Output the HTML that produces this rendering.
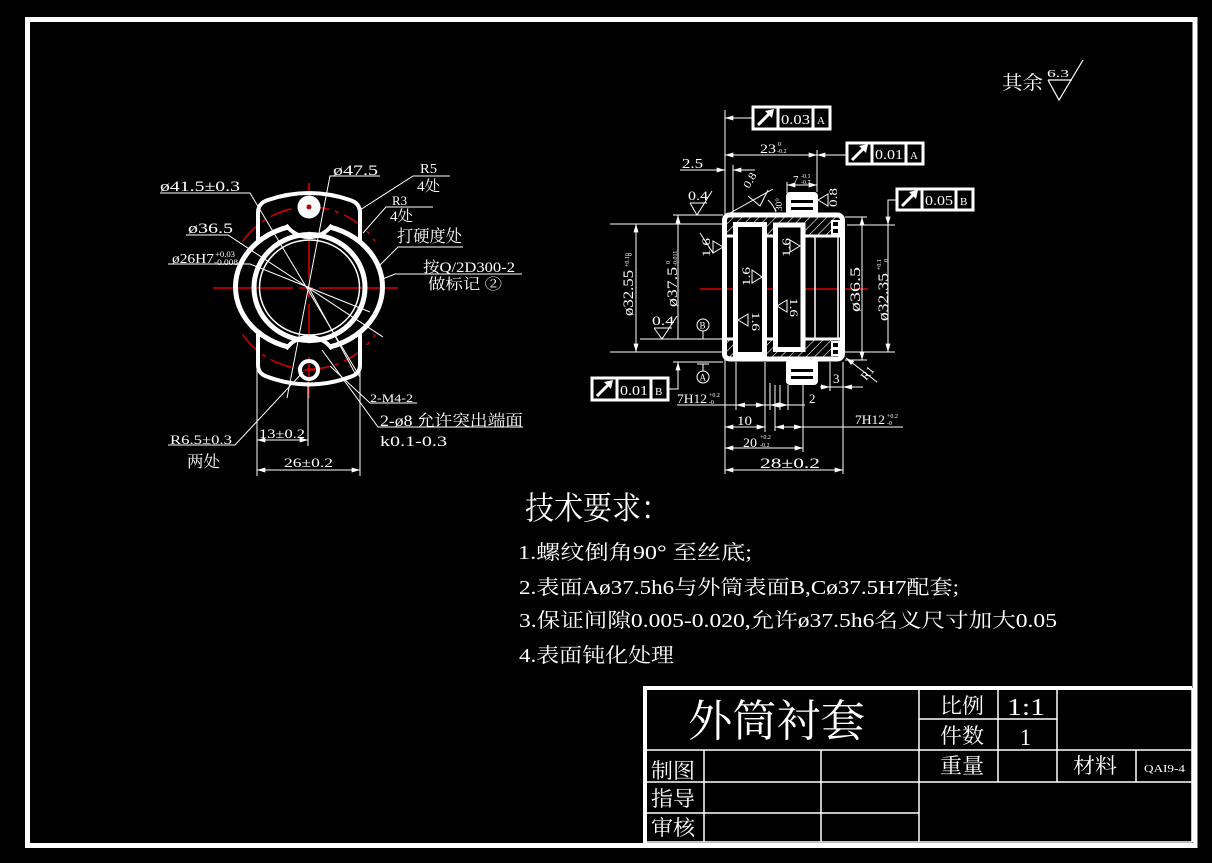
<!DOCTYPE html>
<html><head><meta charset="utf-8">
<style>
html,body{margin:0;padding:0;background:#000;}
svg{display:block;}
text{fill:#fff;font-family:"Liberation Serif","Noto Serif CJK SC",serif;}
</style></head><body>
<svg width="1212" height="863" viewBox="0 0 1212 863" xmlns="http://www.w3.org/2000/svg">
<defs>
<marker id="ar" viewBox="0 0 10 6" refX="10" refY="3" markerWidth="9" markerHeight="5" markerUnits="userSpaceOnUse" orient="auto-start-reverse"><path d="M0 0L10 3L0 6z" fill="#fff"/></marker>
<pattern id="h" width="6" height="6" patternUnits="userSpaceOnUse" patternTransform="rotate(45)"><line x1="0" y1="0" x2="0" y2="6" stroke="#fff" stroke-width="1.2"/></pattern>
</defs>
<rect width="1212" height="863" fill="#000"/>

<!-- outer frame -->
<rect x="27.5" y="19.5" width="1167.5" height="826" fill="none" stroke="#fff" stroke-width="5"/>

<!-- ===== title block ===== -->
<g stroke="#fff" fill="none">
<line x1="643" y1="688" x2="1192" y2="688" stroke-width="4"/>
<line x1="645" y1="686" x2="645" y2="843" stroke-width="4"/>
<g stroke-width="1.5">
<line x1="1192" y1="688" x2="1192" y2="842"/>
<line x1="645" y1="842" x2="1192" y2="842"/>
<line x1="919" y1="719" x2="1057" y2="719"/>
<line x1="645" y1="750" x2="1192" y2="750"/>
<line x1="645" y1="782" x2="1192" y2="782"/>
<line x1="645" y1="813" x2="919" y2="813"/>
<line x1="704" y1="750" x2="704" y2="842"/>
<line x1="821" y1="750" x2="821" y2="842"/>
<line x1="919" y1="688" x2="919" y2="842"/>
<line x1="998" y1="688" x2="998" y2="782"/>
<line x1="1057" y1="688" x2="1057" y2="782"/>
<line x1="1136" y1="750" x2="1136" y2="782"/>
</g>
</g>
<text x="688" y="736" font-size="44" textLength="177" lengthAdjust="spacingAndGlyphs">外筒衬套</text>
<text x="940" y="713" font-size="21" textLength="44" lengthAdjust="spacingAndGlyphs">比例</text>
<text x="1007" y="715" font-size="24" textLength="38" lengthAdjust="spacingAndGlyphs">1:1</text>
<text x="940" y="743" font-size="21" textLength="44" lengthAdjust="spacingAndGlyphs">件数</text>
<text x="1020" y="745" font-size="23" textLength="11" lengthAdjust="spacingAndGlyphs">1</text>
<text x="940" y="773" font-size="21" textLength="44" lengthAdjust="spacingAndGlyphs">重量</text>
<text x="1073" y="773" font-size="21" textLength="44" lengthAdjust="spacingAndGlyphs">材料</text>
<text x="1144" y="772" font-size="11" textLength="41" lengthAdjust="spacingAndGlyphs">QAI9-4</text>
<text x="651" y="778" font-size="21" textLength="44" lengthAdjust="spacingAndGlyphs">制图</text>
<text x="651" y="806" font-size="21" textLength="44" lengthAdjust="spacingAndGlyphs">指导</text>
<text x="651" y="835" font-size="21" textLength="44" lengthAdjust="spacingAndGlyphs">审核</text>

<!-- ===== surface finish top right ===== -->
<text x="1002" y="89" font-size="19" textLength="41" lengthAdjust="spacingAndGlyphs">其余</text>
<text x="1047" y="77" font-size="11" textLength="22" lengthAdjust="spacingAndGlyphs">6.3</text>
<path d="M1048 80 L1072 80 M1048 80 L1059 100 L1083 60" stroke="#fff" stroke-width="1.2" fill="none"/>

<!-- ===== technical requirements ===== -->
<text x="525" y="519" font-size="32" textLength="145" lengthAdjust="spacingAndGlyphs">技术要求：</text>
<text x="518" y="559" font-size="20" textLength="234" lengthAdjust="spacingAndGlyphs">1.螺纹倒角90° 至丝底;</text>
<text x="519" y="594" font-size="20" textLength="440" lengthAdjust="spacingAndGlyphs">2.表面Aø37.5h6与外筒表面B,Cø37.5H7配套;</text>
<text x="519" y="627" font-size="20" textLength="538" lengthAdjust="spacingAndGlyphs">3.保证间隙0.005-0.020,允许ø37.5h6名义尺寸加大0.05</text>
<text x="519" y="662" font-size="20" textLength="155" lengthAdjust="spacingAndGlyphs">4.表面钝化处理</text>

<!-- ===== LEFT VIEW ===== -->
<g stroke="#d00" stroke-width="1.5" fill="none">
<path d="M242.6 241.5 A81 81 0 0 1 375.4 241.5" stroke-dasharray="22 6 4 6"/>
<path d="M242.6 334.5 A81 81 0 0 0 375.4 334.5" stroke-dasharray="22 6 4 6"/>
<line x1="213" y1="288" x2="398" y2="288" stroke-dasharray="80 6 14 6"/>
<line x1="309" y1="183" x2="309" y2="398" stroke-dasharray="95 6 14 6"/>
</g>
<g fill="none" stroke="#fff">
<ellipse cx="309" cy="287" rx="73.5" ry="62.5" stroke-width="5"/>
<ellipse cx="309.5" cy="287.5" rx="55.5" ry="53" stroke-width="5"/>
<ellipse cx="309.5" cy="287.5" rx="50" ry="47.5" stroke-width="1.5"/>
<path d="M258 241 L258 213 Q258 203 268 200 Q309 186 350 200 Q360 203 360 213 L360 241" stroke-width="4"/>
<path d="M258 333 L258 365 Q258 374 268 377 Q309 392 350 377 Q360 374 360 365 L360 333" stroke-width="4"/>
</g>
<!-- masks where ring is interrupted by lugs -->
<rect x="288" y="218" width="42" height="13" fill="#000"/>
<rect x="288" y="344" width="42" height="13" fill="#000"/>
<g fill="none" stroke="#fff">
<path d="M286 225 A28 28 0 0 0 332 225" stroke-width="4"/>
<path d="M286 349 A28 28 0 0 1 332 349" stroke-width="4"/>
</g>
<circle cx="309" cy="207" r="11.5" fill="#fff"/>
<circle cx="309" cy="207" r="2.5" fill="#b00"/>
<circle cx="309" cy="370" r="9" fill="none" stroke="#fff" stroke-width="4"/>
<line x1="303" y1="370" x2="315" y2="370" stroke="#d00" stroke-width="1.2"/>

<g stroke="#fff" stroke-width="1" fill="none">
<!-- leaders -->
<polyline points="160,193 250,193 360,377"/>
<polyline points="380,176 330,176 287,398"/>
<polyline points="450,176 413,176 360,210"/>
<polyline points="433,207 386,207 363,233"/>
<polyline points="463,247 398,247 380,265"/>
<polyline points="522,274 395,274 380,280"/>
<polyline points="186,235 228,235 383,337"/>
<polyline points="168,264 250,264 370,312"/>
<polyline points="417,403 370,403 330,366"/>
<polyline points="523,427 378,427 322,350"/>
<polyline points="168,445 235,445 303,372"/>
<line x1="309" y1="288" x2="356" y2="375"/>
<!-- dims bottom -->
<line x1="257" y1="367" x2="257" y2="476"/>
<line x1="360" y1="367" x2="360" y2="476"/>
<line x1="308" y1="382" x2="308" y2="446"/>
<line x1="257" y1="440" x2="308" y2="440" marker-start="url(#ar)" marker-end="url(#ar)"/>
<line x1="257" y1="470" x2="360" y2="470" marker-start="url(#ar)" marker-end="url(#ar)"/>
</g>
<text x="160" y="191" font-size="15" textLength="80" lengthAdjust="spacingAndGlyphs">ø41.5±0.3</text>
<text x="333" y="175" font-size="15" textLength="45" lengthAdjust="spacingAndGlyphs">ø47.5</text>
<text x="420" y="173" font-size="14" textLength="17" lengthAdjust="spacingAndGlyphs">R5</text>
<text x="417" y="191" font-size="15" textLength="23" lengthAdjust="spacingAndGlyphs">4处</text>
<text x="392" y="205" font-size="13" textLength="15" lengthAdjust="spacingAndGlyphs">R3</text>
<text x="390" y="221" font-size="15" textLength="23" lengthAdjust="spacingAndGlyphs">4处</text>
<text x="397" y="242" font-size="17" textLength="65" lengthAdjust="spacingAndGlyphs">打硬度处</text>
<text x="423" y="272" font-size="15" textLength="92" lengthAdjust="spacingAndGlyphs">按Q/2D300-2</text>
<text x="428" y="289" font-size="15" textLength="74" lengthAdjust="spacingAndGlyphs">做标记 ②</text>
<text x="188" y="233" font-size="15" textLength="45" lengthAdjust="spacingAndGlyphs">ø36.5</text>
<text x="172" y="263" font-size="14" textLength="42" lengthAdjust="spacingAndGlyphs">ø26H7</text>
<text x="215" y="257" font-size="8" textLength="20" lengthAdjust="spacingAndGlyphs">+0.03</text>
<text x="214" y="265" font-size="8" textLength="24" lengthAdjust="spacingAndGlyphs">-0.008</text>
<text x="370" y="402" font-size="12" textLength="43" lengthAdjust="spacingAndGlyphs">2-M4-2</text>
<text x="380" y="426" font-size="16" textLength="143" lengthAdjust="spacingAndGlyphs">2-ø8 允许突出端面</text>
<text x="380" y="446" font-size="15" textLength="67" lengthAdjust="spacingAndGlyphs">k0.1-0.3</text>
<text x="170" y="444" font-size="13" textLength="62" lengthAdjust="spacingAndGlyphs">R6.5±0.3</text>
<text x="187" y="467" font-size="16" textLength="33" lengthAdjust="spacingAndGlyphs">两处</text>
<text x="259" y="438" font-size="13" textLength="46" lengthAdjust="spacingAndGlyphs">13±0.2</text>
<text x="284" y="467" font-size="13" textLength="49" lengthAdjust="spacingAndGlyphs">26±0.2</text>

<!-- ===== RIGHT VIEW ===== -->
<line x1="700" y1="289" x2="868" y2="289" stroke="#d00" stroke-width="1.5" stroke-dasharray="60 5 8 5"/>
<rect x="727" y="217" width="113" height="18" fill="url(#h)"/>
<rect x="727" y="340" width="113" height="17" fill="url(#h)"/>
<g fill="none" stroke="#fff">
<rect x="724.5" y="215" width="118" height="144" rx="5" stroke-width="5"/>
<line x1="727" y1="236" x2="840" y2="236" stroke-width="3"/>
<line x1="727" y1="339" x2="840" y2="339" stroke-width="3"/>
<rect x="735.5" y="224.5" width="29" height="130" stroke-width="5" fill="#000"/>
<rect x="775.5" y="225" width="27.5" height="124.5" stroke-width="5" fill="#000"/>
<line x1="815" y1="236" x2="815" y2="339" stroke-width="1.5"/>
<line x1="838" y1="236" x2="838" y2="339" stroke-width="1.5"/>
<rect x="832" y="221" width="7" height="6" stroke-width="2" fill="#000"/>
<rect x="832" y="228" width="7" height="6" stroke-width="2" fill="#000"/>
<rect x="832" y="342" width="7" height="6" stroke-width="2" fill="#000"/>
<rect x="832" y="349" width="7" height="6" stroke-width="2" fill="#000"/>
</g>
<rect x="786" y="192" width="32" height="24" rx="4" fill="#fff"/>
<rect x="791" y="200" width="22" height="3" fill="#000"/>
<rect x="791" y="207" width="22" height="3" fill="#000"/>
<rect x="786" y="359" width="32" height="26" rx="4" fill="#fff"/>
<rect x="791" y="369" width="22" height="3" fill="#000"/>
<rect x="791" y="376" width="22" height="3" fill="#000"/>

<g stroke="#fff" stroke-width="1" fill="none">
<!-- extension lines -->
<line x1="725" y1="110" x2="725" y2="474"/>
<line x1="817" y1="150" x2="817" y2="192"/>
<line x1="787" y1="182" x2="787" y2="193"/>
<line x1="733" y1="165" x2="733" y2="215"/>
<line x1="610" y1="224" x2="723" y2="224"/>
<line x1="610" y1="352" x2="723" y2="352"/>
<line x1="673" y1="215" x2="723" y2="215"/>
<line x1="673" y1="362" x2="723" y2="362"/>
<line x1="640" y1="339" x2="723" y2="339"/>
<line x1="845" y1="217" x2="867" y2="217"/>
<line x1="845" y1="360" x2="867" y2="360"/>
<line x1="847" y1="225" x2="895" y2="225"/>
<line x1="845" y1="352" x2="895" y2="352"/>
<line x1="736" y1="362" x2="736" y2="410"/>
<line x1="765" y1="362" x2="765" y2="432"/>
<line x1="770" y1="383" x2="770" y2="410"/>
<line x1="775" y1="385" x2="775" y2="431"/>
<line x1="780" y1="385" x2="780" y2="410"/>
<line x1="788" y1="385" x2="788" y2="410"/>
<line x1="803" y1="385" x2="803" y2="452"/>
<line x1="830" y1="362" x2="830" y2="391"/>
<line x1="843" y1="362" x2="843" y2="474"/>
<!-- dimension lines -->
<line x1="725" y1="118" x2="753" y2="118" marker-start="url(#ar)"/>
<line x1="725" y1="155" x2="817" y2="155" marker-start="url(#ar)" marker-end="url(#ar)"/>
<line x1="817" y1="155" x2="847" y2="155" marker-start="url(#ar)"/>
<line x1="680" y1="170" x2="725" y2="170" marker-end="url(#ar)"/>
<line x1="733" y1="170" x2="755" y2="170" marker-start="url(#ar)"/>
<line x1="787" y1="185" x2="817" y2="185" marker-start="url(#ar)" marker-end="url(#ar)"/>
<polyline points="897,200 888,200 888,225" marker-end="url(#ar)"/>
<polyline points="668,389 678,389 678,362" marker-end="url(#ar)"/>
<line x1="636" y1="224" x2="636" y2="352" marker-start="url(#ar)" marker-end="url(#ar)"/>
<line x1="678" y1="215" x2="678" y2="339"/>
<line x1="678" y1="215" x2="678" y2="222" marker-start="url(#ar)"/>
<line x1="862" y1="217" x2="862" y2="360" marker-start="url(#ar)" marker-end="url(#ar)"/>
<line x1="888" y1="225" x2="888" y2="352" marker-end="url(#ar)"/>
<line x1="677" y1="405" x2="805" y2="405"/>
<path d="M736 405 l9 -2.5 v5z M765 405 l-9 -2.5 v5z M770 405 l9 -2.5 v5z M788 405 l-9 -2.5 v5z" fill="#fff" stroke="none"/>
<line x1="725" y1="427" x2="765" y2="427" marker-start="url(#ar)" marker-end="url(#ar)"/>
<line x1="775" y1="427" x2="903" y2="427"/>
<path d="M775 427 l9 -2.5 v5z M803 427 l-9 -2.5 v5z" fill="#fff" stroke="none"/>
<line x1="725" y1="448" x2="803" y2="448" marker-start="url(#ar)" marker-end="url(#ar)"/>
<line x1="725" y1="470" x2="843" y2="470" marker-start="url(#ar)" marker-end="url(#ar)"/>
<line x1="820" y1="387" x2="863" y2="387"/>
<path d="M830 387 l-9 -2.5 v5z M843 387 l9 -2.5 v5z" fill="#fff" stroke="none"/>
<line x1="846" y1="358" x2="877" y2="382" marker-start="url(#ar)"/>
<!-- chamfer lines -->
<line x1="723" y1="217" x2="773" y2="189"/>
<path d="M768 200 A30 30 0 0 1 776 212"/>
<!-- roughness symbols -->
<path d="M690 203 L707 203 M690 203 L697 215 L712 191"/>
<path d="M654 328 L672 328 M654 328 L662 339 L677 316"/>
<path d="M713 241 L723 247 L713 253 Z M713 253 L700 233"/>
<path d="M752 270 L762 277 L752 283 Z"/>
<path d="M748 314 L738 320 L748 326 Z"/>
<path d="M790 240 L800 246 L790 252 Z"/>
<path d="M787 300 L777 306 L787 312 Z"/>
<path d="M828 194 L818 200 L828 206 Z"/>
<path d="M748 196 L760 206 L768 190"/>
<!-- datum symbols -->
<circle cx="703" cy="325" r="6"/>
<line x1="703" y1="331" x2="703" y2="339"/>
<circle cx="703" cy="377" r="6"/>
<line x1="703" y1="371" x2="703" y2="364"/>
<line x1="697" y1="364" x2="709" y2="364"/>
</g>
<text x="699.5" y="328.5" font-size="9">B</text>
<text x="699.5" y="380.5" font-size="9">A</text>

<!-- feature control frames -->
<g stroke="#fff" stroke-width="3" fill="none">
<rect x="753" y="107" width="77" height="22"/><line x1="778" y1="107" x2="778" y2="129"/><line x1="813" y1="107" x2="813" y2="129"/>
<rect x="847" y="143" width="76" height="21"/><line x1="872" y1="143" x2="872" y2="164"/><line x1="906" y1="143" x2="906" y2="164"/>
<rect x="897" y="189" width="76" height="21"/><line x1="922" y1="189" x2="922" y2="210"/><line x1="956" y1="189" x2="956" y2="210"/>
<rect x="592" y="378" width="76" height="22"/><line x1="617" y1="378" x2="617" y2="400"/><line x1="651" y1="378" x2="651" y2="400"/>
<line x1="758" y1="125" x2="770" y2="113"/>
<line x1="852" y1="160" x2="864" y2="148"/>
<line x1="902" y1="206" x2="914" y2="194"/>
<line x1="597" y1="396" x2="609" y2="384"/>
</g>
<g fill="#fff">
<path d="M774 109 l-2 9 l-7 -7z"/>
<path d="M868 144 l-2 9 l-7 -7z"/>
<path d="M918 190 l-2 9 l-7 -7z"/>
<path d="M613 380 l-2 9 l-7 -7z"/>
</g>
<text x="781" y="124" font-size="14" textLength="29" lengthAdjust="spacingAndGlyphs">0.03</text>
<text x="817" y="124" font-size="11">A</text>
<text x="875" y="159" font-size="14" textLength="28" lengthAdjust="spacingAndGlyphs">0.01</text>
<text x="910" y="159" font-size="11">A</text>
<text x="925" y="205" font-size="14" textLength="28" lengthAdjust="spacingAndGlyphs">0.05</text>
<text x="960" y="205" font-size="11">B</text>
<text x="620" y="395" font-size="14" textLength="28" lengthAdjust="spacingAndGlyphs">0.01</text>
<text x="655" y="395" font-size="11">B</text>

<!-- right view texts -->
<text x="760" y="153" font-size="13" textLength="16" lengthAdjust="spacingAndGlyphs">23</text>
<text x="778" y="146" font-size="6">0</text>
<text x="777" y="153" font-size="6">-0.2</text>
<text x="682" y="168" font-size="14" textLength="21" lengthAdjust="spacingAndGlyphs">2.5</text>
<text x="688" y="200" font-size="13" textLength="20" lengthAdjust="spacingAndGlyphs">0.4</text>
<text x="652" y="325" font-size="13" textLength="22" lengthAdjust="spacingAndGlyphs">0.4</text>
<text x="793" y="183" font-size="11">7</text>
<text x="801" y="178" font-size="6">-0.1</text>
<text x="801" y="184" font-size="6">-0.7</text>
<text transform="translate(633,316) rotate(-90)" font-size="15" textLength="46" lengthAdjust="spacingAndGlyphs">ø32.55</text>
<text transform="translate(629,267) rotate(-90)" font-size="6">+0.10</text>
<text transform="translate(632,256) rotate(-90)" font-size="6">0</text>
<text transform="translate(677,307) rotate(-90)" font-size="15" textLength="40" lengthAdjust="spacingAndGlyphs">ø37.5</text>
<text transform="translate(670,264) rotate(-90)" font-size="6">0</text>
<text transform="translate(677,266) rotate(-90)" font-size="6">-0.011</text>
<text transform="translate(860,312) rotate(-90)" font-size="15" textLength="45" lengthAdjust="spacingAndGlyphs">ø36.5</text>
<text transform="translate(888,321) rotate(-90)" font-size="15" textLength="48" lengthAdjust="spacingAndGlyphs">ø32.35</text>
<text transform="translate(881,270) rotate(-90)" font-size="6">+0.1</text>
<text transform="translate(888,262) rotate(-90)" font-size="6">0</text>
<text transform="translate(710,257) rotate(-90)" font-size="12" textLength="19" lengthAdjust="spacingAndGlyphs">1.6</text>
<text transform="translate(750,286) rotate(-90)" font-size="12" textLength="19" lengthAdjust="spacingAndGlyphs">1.6</text>
<text transform="translate(752,312) rotate(90)" font-size="12" textLength="19" lengthAdjust="spacingAndGlyphs">1.6</text>
<text transform="translate(790,257) rotate(-90)" font-size="12" textLength="19" lengthAdjust="spacingAndGlyphs">1.6</text>
<text transform="translate(790,298) rotate(90)" font-size="12" textLength="19" lengthAdjust="spacingAndGlyphs">1.6</text>
<text transform="translate(837,207) rotate(-90)" font-size="12" textLength="19" lengthAdjust="spacingAndGlyphs">0.8</text>
<text transform="translate(749,189) rotate(-60)" font-size="11" textLength="16" lengthAdjust="spacingAndGlyphs">0.8</text>
<text transform="translate(782,211) rotate(-90)" font-size="9" textLength="13" lengthAdjust="spacingAndGlyphs">30°</text>
<text x="677" y="403" font-size="13" textLength="30" lengthAdjust="spacingAndGlyphs">7H12</text>
<text x="709" y="397" font-size="6">+0.2</text>
<text x="709" y="404" font-size="6">-0</text>
<text x="809" y="403" font-size="13">2</text>
<text x="737" y="425" font-size="13" textLength="15" lengthAdjust="spacingAndGlyphs">10</text>
<text x="855" y="424" font-size="13" textLength="30" lengthAdjust="spacingAndGlyphs">7H12</text>
<text x="887" y="418" font-size="6">+0.2</text>
<text x="887" y="425" font-size="6">-0</text>
<text x="743" y="447" font-size="13" textLength="14" lengthAdjust="spacingAndGlyphs">20</text>
<text x="760" y="439" font-size="6">+0.2</text>
<text x="760" y="447" font-size="6">-0.2</text>
<text x="760" y="468" font-size="15" textLength="60" lengthAdjust="spacingAndGlyphs">28±0.2</text>
<text x="833" y="383" font-size="13">3</text>
<text transform="translate(866,381) rotate(-50)" font-size="12">R1</text>
</svg>
</body></html>
